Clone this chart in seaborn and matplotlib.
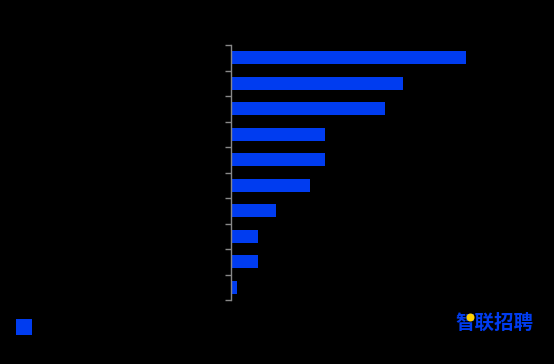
import numpy as np
import pandas as pd
import matplotlib
matplotlib.use("Agg")
import matplotlib.pyplot as plt
from matplotlib.patches import Rectangle, Circle
import seaborn as sns

# values (labels are drawn in black on black in the original)
categories = ["c1", "c2", "c3", "c4", "c5", "c6", "c7", "c8", "c9", "c10"]
values = [39.2, 28.7, 25.7, 15.7, 15.7, 13.2, 7.5, 4.5, 4.5, 1.0]

blue = "#003cf0"
bg = "#000000"

sns.set_style("dark")
plt.rcParams["font.family"] = ["Noto Sans CJK SC", "DejaVu Sans"]

df = pd.DataFrame({"category": categories, "value": values})

fig = plt.figure(figsize=(5.54, 3.64), dpi=100, facecolor=bg)
ax = fig.add_axes([230.7 / 554, 64 / 364, 300 / 554, 255 / 364])
ax.set_facecolor(bg)

sns.barplot(data=df, x="value", y="category", orient="h", color=blue,
            width=0.51, saturation=1, linewidth=0, edgecolor="none", ax=ax)

ax.set_xlim(0, 50)
ax.set_ylim(9.5, -0.5)
ax.set_xlabel("")
ax.set_ylabel("")
ax.grid(False)
ax.set_xticks([])

# category labels are invisible in the reference (black text)
ax.set_yticks(np.arange(len(categories)))
ax.set_yticklabels([""] * len(categories))
ax.tick_params(axis="y", which="major", length=0)
ax.set_yticks(np.arange(-0.5, len(categories)), minor=True)
ax.tick_params(axis="y", which="minor", length=4, width=1, color="#888888", left=True)

for side in ["top", "right", "bottom"]:
    ax.spines[side].set_visible(False)
ax.spines["left"].set_color("#888888")
ax.spines["left"].set_linewidth(1)

# legend marker bottom left
fig.patches.append(Rectangle((16 / 554, (364 - 335) / 364), 16 / 554, 16 / 364,
                             transform=fig.transFigure, facecolor=blue,
                             edgecolor="none"))

# logo bottom right
fig.text(494.5 / 554, (364 - 323) / 364, "智联招聘", color=blue, fontsize=14,
         fontweight="bold", ha="center", va="center", zorder=5)
fig.patches.append(Circle((4.705, 3.64 - 3.175), 0.04,
                          transform=fig.dpi_scale_trans, facecolor="#ffd200",
                          edgecolor="none", zorder=10))

fig.savefig("out.png", dpi=100, facecolor=bg)
